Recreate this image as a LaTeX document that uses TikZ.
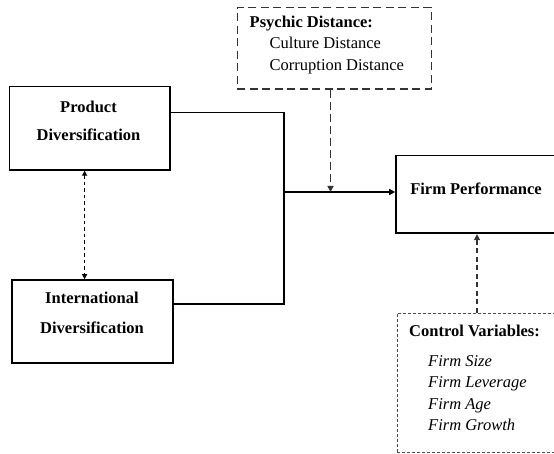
\documentclass[tikz,border=0pt]{standalone}
\usepackage{fontspec}
\setmainfont{Liberation Serif}
\usetikzlibrary{arrows.meta}

\begin{document}
\begin{tikzpicture}[x=1pt, y=-1pt,
    varbox/.style={draw, line width=1.6pt, inner sep=0pt},
    modbox/.style={draw, line width=1.1pt, inner sep=0pt},
    boxtext/.style={font=\fontsize{16.5}{28}\selectfont\bfseries, align=center, inner sep=0pt},
    listtext/.style={font=\fontsize{16.5}{21.5}\selectfont, align=left, inner sep=0pt, anchor=west},
    link/.style={line width=1.5pt},
    tip/.style={-{Triangle[length=6pt,width=6pt]}}]

    \useasboundingbox (0,0) rectangle (554,454);
    \clip (0,0) rectangle (554,454);

    % Independent variables
    \node[varbox, minimum width=160.5pt, minimum height=83.3pt] (prod) at (89.8,128.3) {};
    \node[boxtext] (prodlbl) at (88.5,121) {Product\\Diversification};
    \node[varbox, minimum width=161pt, minimum height=83pt] (intl) at (92.5,321.5) {};
    \node[boxtext] (intllbl) at (92,313) {International\\[2pt]Diversification};

    % Dependent variable
    \node[varbox, minimum width=162pt, minimum height=77.6pt] (firm) at (477,194.5) {};
    \node[boxtext] (firmlbl) at (476,189) {Firm Performance};

    % Moderator
    \node[modbox, draw=black!80, dash pattern=on 8pt off 4.5pt, minimum width=193.7pt, minimum height=81.7pt] (psych) at (334.2,48.2) {};
    \node[listtext] (psychlbl) at (249.5,45) {\textbf{Psychic Distance:}\\
        \hspace*{20pt}Culture Distance\\
        \hspace*{20pt}Corruption Distance};

    % Controls
    \node[modbox, draw=black!70, line width=0.9pt, dash pattern=on 3pt off 2pt, minimum width=160pt, minimum height=139pt] (ctrl) at (477,382.5) {};
    \node[listtext] (ctrllbl) at (409,378) {\textbf{Control Variables:}\\[8.5pt]
        \hspace*{19pt}\textit{Firm Size}\\
        \hspace*{19pt}\textit{Firm Leverage}\\
        \hspace*{19pt}\textit{Firm Age}\\
        \hspace*{19pt}\textit{Firm Growth}};

    % Connectors
    \coordinate (join) at (284,192);
    \draw[link] ([yshift=15.6pt]prod.east) -| (join) |- ([yshift=17.5pt]intl.east);
    \draw[tip, line width=2.6pt] (join) -- (join -| firm.west);

    \coordinate (psychfoot) at ([xshift=-3.7pt]psych.south);
    \draw[link, draw=black!80, tip, dash pattern=on 8pt off 4pt] (psychfoot) -- (psychfoot |- join);

    \coordinate (divtop) at ([xshift=-5.2pt]prod.south);
    \draw[link, line width=1.3pt, {Triangle[length=5pt,width=5pt]}-{Triangle[length=5pt,width=5pt]}, dash pattern=on 3.5pt off 3pt]
        (divtop) -- (divtop |- intl.north);

    \draw[link, line width=1.3pt, draw=black!80, tip, dash pattern=on 5pt off 3.5pt] (ctrl.north) -- (firm.south);

\end{tikzpicture}
\end{document}
